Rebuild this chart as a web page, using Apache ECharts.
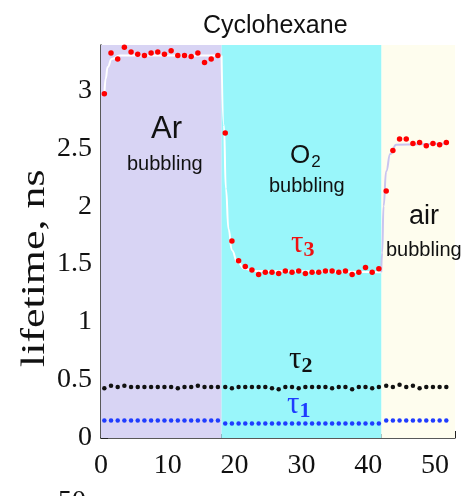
<!DOCTYPE html>
<html>
<head>
<meta charset="utf-8">
<script src="https://cdn.jsdelivr.net/npm/echarts@6/dist/echarts.min.js"></script>
<style>
  html, body { margin: 0; padding: 0; background: #fff; }
  #main { width: 464px; height: 496px; }
</style>
</head>
<body>
<div id="main"></div>
<script>
// sample times (min) for each bubbling stage
var timeAr = [0.5, 1.5, 2.5, 3.5, 4.5, 5.5, 6.5, 7.5, 8.5, 9.5, 10.5, 11.5, 12.5, 13.5, 14.5, 15.5, 16.5, 17.5];
var timeO2 = [18.6, 19.6, 20.6, 21.6, 22.6, 23.6, 24.6, 25.6, 26.6, 27.6, 28.6, 29.6, 30.6, 31.6, 32.6, 33.6, 34.6, 35.6, 36.6, 37.6, 38.6, 39.6, 40.6, 41.6];
var timeAir = [42.7, 43.7, 44.7, 45.7, 46.7, 47.7, 48.7, 49.7, 50.7, 51.7];

// lifetimes, ns
var tau3Ar = [2.97, 3.32, 3.27, 3.37, 3.33, 3.31, 3.30, 3.32, 3.33, 3.31, 3.34, 3.30, 3.30, 3.29, 3.32, 3.24, 3.27, 3.30];
var tau3O2 = [2.63, 1.70, 1.53, 1.48, 1.45, 1.41, 1.43, 1.43, 1.42, 1.44, 1.43, 1.44, 1.42, 1.43, 1.43, 1.44, 1.44, 1.43, 1.44, 1.41, 1.43, 1.47, 1.43, 1.46];
var tau3Air = [2.13, 2.48, 2.58, 2.58, 2.54, 2.55, 2.52, 2.54, 2.53, 2.55];

var tau2Ar = [0.43, 0.45, 0.44, 0.45, 0.44, 0.44, 0.44, 0.44, 0.44, 0.44, 0.44, 0.43, 0.44, 0.44, 0.45, 0.44, 0.44, 0.44];
var tau2O2 = [0.44, 0.43, 0.44, 0.44, 0.44, 0.44, 0.44, 0.43, 0.42, 0.44, 0.44, 0.43, 0.44, 0.44, 0.44, 0.44, 0.43, 0.44, 0.44, 0.42, 0.44, 0.44, 0.43, 0.44];
var tau2Air = [0.45, 0.44, 0.46, 0.44, 0.45, 0.43, 0.44, 0.44, 0.44, 0.44];

var tau1Ar = [0.15, 0.15, 0.15, 0.15, 0.15, 0.15, 0.15, 0.15, 0.15, 0.15, 0.15, 0.15, 0.15, 0.15, 0.15, 0.15, 0.15, 0.15];
var tau1O2 = [0.125, 0.125, 0.125, 0.125, 0.125, 0.125, 0.125, 0.125, 0.125, 0.125, 0.125, 0.125, 0.125, 0.125, 0.125, 0.125, 0.125, 0.125, 0.125, 0.125, 0.125, 0.125, 0.125, 0.125];
var tau1Air = [0.15, 0.15, 0.15, 0.15, 0.15, 0.15, 0.15, 0.15, 0.15, 0.15];

// fitted curves
var fitAr = [[0.5, 2.95], [0.7, 3.1], [1.0, 3.2], [1.6, 3.27], [2.8, 3.3], [17.95, 3.3]];
var fitO2 = [[18.05, 3.3], [18.4, 2.7], [18.7, 2.15], [19.1, 1.8], [19.6, 1.62], [20.4, 1.52], [21.5, 1.46], [23, 1.44], [41.9, 1.43]];
var fitAir = [[41.95, 1.43], [42.1, 1.6], [42.3, 2.0], [42.7, 2.3], [43.3, 2.45], [44.2, 2.53], [52, 2.54]];

// stage boundaries
var stages = [
    { name: 'Ar', from: 0, to: 18.05, color: '#d8d4f4' },
    { name: 'O2', from: 18.05, to: 42.0, color: '#99f6fa' },
    { name: 'air', from: 42.0, to: 53, color: '#fefdee' }
];

var xTicks = [0, 10, 20, 30, 40, 50];
var yTicks = [0, 0.5, 1, 1.5, 2, 2.5, 3];

function zip(xs, ys) {
    return xs.map(function (x, i) { return [x, ys[i]]; });
}

var serif = 'Liberation Serif';
var sans = 'Liberation Sans';

var chart = echarts.init(document.getElementById('main'));

function dots(name, xs, ys, color, size) {
    return {
        name: name,
        type: 'scatter',
        data: zip(xs, ys),
        symbolSize: size,
        itemStyle: { color: color, opacity: 1 },
        z: 5,
        silent: true
    };
}

function fit(data, color) {
    return {
        type: 'line',
        data: data,
        smooth: true,
        smoothMonotone: 'x',
        showSymbol: false,
        lineStyle: { color: color, width: 2 },
        z: 3,
        silent: true
    };
}

// subscripted tau label
function tau(sub, color, left, top) {
    return {
        type: 'text', left: left, top: top, z: 10,
        style: {
            text: '{t|τ}{s|' + sub + '}',
            rich: {
                t: { fontFamily: serif, fontSize: 31, fill: color },
                s: { fontFamily: serif, fontSize: 22, fontWeight: 'bold', fill: color, padding: [14, 0, 0, 0] }
            }
        }
    };
}

var option = {
    animation: false,
    title: {
        text: 'Cyclohexane',
        left: 198,
        top: 9,
        textStyle: { fontFamily: sans, fontSize: 25, fontWeight: 'normal', color: '#111' }
    },
    grid: { left: 101, right: 9, top: 45, bottom: 58, containLabel: false, outerBoundsMode: 'none' },
    xAxis: {
        type: 'value',
        min: 0,
        max: 53,
        interval: 10,
        axisLine: { lineStyle: { color: '#222', width: 1.5 } },
        axisTick: { inside: true, length: 7, lineStyle: { color: '#222' } },
        minorTick: { show: true, splitNumber: 5, length: 4, lineStyle: { color: '#222' } },
        splitLine: { show: false },
        axisLabel: {
            showMaxLabel: false,
            margin: 14,
            fontFamily: serif,
            fontSize: 28,
            color: '#111',
            formatter: function (v) { return xTicks.indexOf(v) >= 0 ? String(v) : ''; }
        }
    },
    yAxis: {
        type: 'value',
        min: 0,
        max: 3.39,
        interval: 0.5,
        axisLine: { show: true, lineStyle: { color: '#222', width: 1.5 } },
        axisTick: { show: true, inside: true, length: 7, lineStyle: { color: '#222' } },
        minorTick: { show: true, splitNumber: 5, length: 4, lineStyle: { color: '#222' } },
        splitLine: { show: false },
        axisLabel: {
            showMaxLabel: false,
            margin: 9,
            fontFamily: serif,
            fontSize: 28,
            color: '#111',
            formatter: function (v) { return yTicks.indexOf(v) >= 0 ? String(v) : ''; }
        }
    },
    series: [
        {
            type: 'line',
            data: [],
            silent: true,
            markArea: {
                silent: true,
                data: stages.map(function (s) {
                    return [{ xAxis: s.from, itemStyle: { color: s.color, opacity: 1 } }, { xAxis: s.to }];
                })
            },
            z: 1
        },
        fit(fitAr, '#ffffff'),
        fit(fitO2, '#ffffff'),
        fit(fitAir, '#c9c4f0'),
        dots('tau3', timeAr, tau3Ar, '#ff0000', 5.5),
        dots('tau3', timeO2, tau3O2, '#ff0000', 5.5),
        dots('tau3', timeAir, tau3Air, '#ff0000', 5.5),
        dots('tau2', timeAr, tau2Ar, '#111111', 4.5),
        dots('tau2', timeO2, tau2O2, '#111111', 4.5),
        dots('tau2', timeAir, tau2Air, '#111111', 4.5),
        dots('tau1', timeAr, tau1Ar, '#1f3cff', 4.5),
        dots('tau1', timeO2, tau1O2, '#1f3cff', 4.5),
        dots('tau1', timeAir, tau1Air, '#1f3cff', 4.5)
    ],
    graphic: [
        // y axis name, stretched along its length like the original
        {
            type: 'text', x: 19, y: 367, rotation: Math.PI / 2, scaleX: 1.33, z: 10,
            style: { text: 'lifetime, ns', fontFamily: serif, fontSize: 33, fill: '#111', verticalAlign: 'top' }
        },
        // stage captions
        {
            type: 'text', left: 151, top: 114, z: 10,
            style: { text: 'Ar', fontFamily: sans, fontSize: 31, fill: '#111' }
        },
        {
            type: 'text', left: 127, top: 154, z: 10,
            style: { text: 'bubbling', fontFamily: sans, fontSize: 20, fill: '#111' }
        },
        {
            type: 'text', left: 290, top: 143, z: 10,
            style: {
                text: '{o|O}{s|2}',
                rich: {
                    o: { fontFamily: sans, fontSize: 26, fill: '#111' },
                    s: { fontFamily: sans, fontSize: 17, fill: '#111', padding: [12, 0, 0, 1] }
                }
            }
        },
        {
            type: 'text', left: 269, top: 176, z: 10,
            style: { text: 'bubbling', fontFamily: sans, fontSize: 20, fill: '#111' }
        },
        {
            type: 'text', left: 409, top: 203, z: 10,
            style: { text: 'air', fontFamily: sans, fontSize: 27, fill: '#111' }
        },
        {
            type: 'text', left: 386, top: 240, z: 10,
            style: { text: 'bubbling', fontFamily: sans, fontSize: 20, fill: '#111' }
        },
        // lifetime component labels
        tau('3', '#ee1111', 291, 228),
        tau('2', '#111111', 289, 344),
        tau('1', '#1f3cff', 287, 389),
        // top of a label from the next panel, cut by the frame
        {
            type: 'text', left: 58, top: 488, z: 10,
            style: { text: '50', fontFamily: serif, fontSize: 28, fill: '#111' }
        }
    ]
};

chart.setOption(option);
</script>
</body>
</html>
